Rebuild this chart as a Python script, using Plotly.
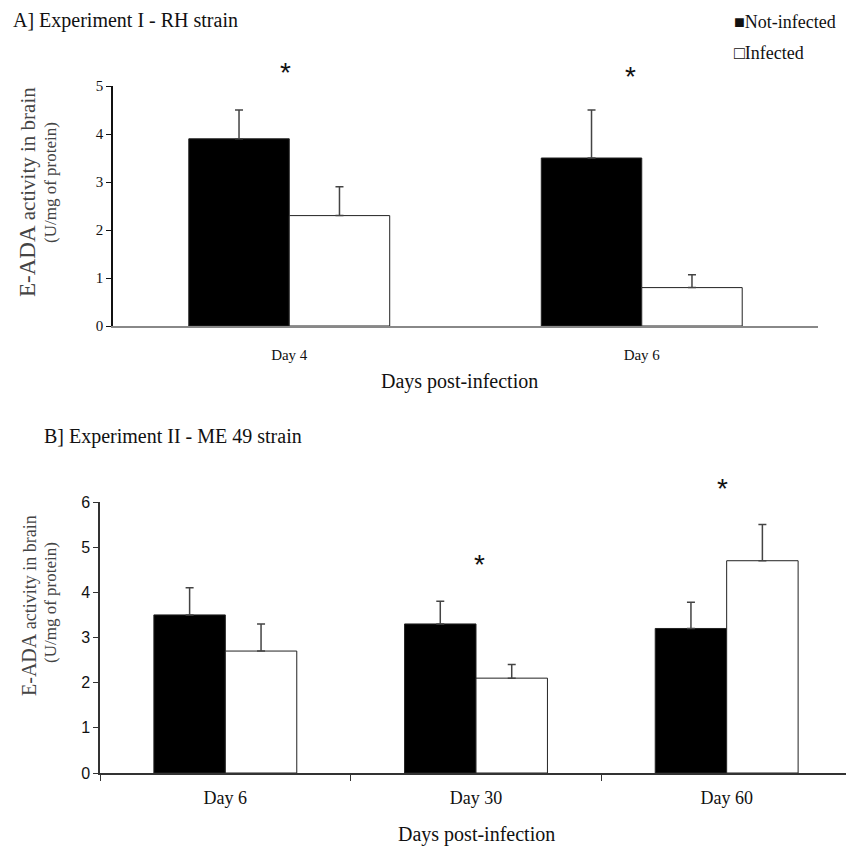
import plotly.graph_objects as go

# Panel A: Experiment I - RH strain
days_a = ["Day 4", "Day 6"]
not_inf_a = [3.9, 3.5]
not_inf_a_err = [0.6, 1.0]
inf_a = [2.3, 0.8]
inf_a_err = [0.6, 0.27]
star_a_days = ["Day 4", "Day 6"]

# Panel B: Experiment II - ME 49 strain
days_b = ["Day 6", "Day 30", "Day 60"]
not_inf_b = [3.5, 3.3, 3.2]
not_inf_b_err = [0.6, 0.5, 0.58]
inf_b = [2.7, 2.1, 4.7]
inf_b_err = [0.6, 0.3, 0.8]
star_b_days = ["Day 30", "Day 60"]

SERIF = "Liberation Serif"
SANS = "Liberation Sans"
OFF = 8            # page body margin of the browser
W, H = 846, 844    # figure size so that figure + page margin fits the window

def px_x(p):
    return (p - OFF) / W

def px_y(p):
    return 1 - (p - OFF) / H

fig = go.Figure()

err_style = dict(type="data", symmetric=False, color="#444444", thickness=1.5, width=4)
bar_line = dict(color="#222", width=1)

fig.add_trace(go.Bar(x=days_a, y=not_inf_a, name="Not-infected", marker=dict(color="black", line=bar_line),
                     error_y=dict(array=not_inf_a_err, arrayminus=[0]*len(days_a), **err_style),
                     xaxis="x", yaxis="y", offsetgroup="a1"))
fig.add_trace(go.Bar(x=days_a, y=inf_a, name="Infected", marker=dict(color="white", line=bar_line),
                     error_y=dict(array=inf_a_err, arrayminus=[0]*len(days_a), **err_style),
                     xaxis="x", yaxis="y", offsetgroup="a2"))
fig.add_trace(go.Bar(x=days_b, y=not_inf_b, name="Not-infected", marker=dict(color="black", line=bar_line),
                     error_y=dict(array=not_inf_b_err, arrayminus=[0]*len(days_b), **err_style),
                     xaxis="x2", yaxis="y2", offsetgroup="b1"))
fig.add_trace(go.Bar(x=days_b, y=inf_b, name="Infected", marker=dict(color="white", line=bar_line),
                     error_y=dict(array=inf_b_err, arrayminus=[0]*len(days_b), **err_style),
                     xaxis="x2", yaxis="y2", offsetgroup="b2"))

annotations = []
star_font = dict(family=SANS, size=28, color="#111")
# Asterisks (x in category units, y relative to each panel's plotting area)
for d, yd, xs in zip(star_a_days, [1.131, 1.111], [-4, -11]):
    annotations.append(dict(x=d, y=yd, xref="x", yref="y domain", text="*", showarrow=False,
                            xshift=xs, font=star_font))
for d, yd, xs in zip(star_b_days, [0.834, 1.115], [3, -4]):
    annotations.append(dict(x=d, y=yd, xref="x2", yref="y2 domain", text="*", showarrow=False,
                            xshift=xs, font=star_font))

def txt(text, xp, yp, size, color="#111", angle=0, anchor="center"):
    annotations.append(dict(x=px_x(xp), y=px_y(yp), xref="paper", yref="paper", xanchor=anchor, yanchor="middle",
                            text=text, textangle=angle, showarrow=False,
                            font=dict(family=SERIF, size=size, color=color)))

# Panel titles
txt("A] Experiment I - RH strain", 11, 20, 20, anchor="left")
txt("B] Experiment II - ME 49 strain", 42, 436, 20, anchor="left")
# Y titles (two lines each)
txt("<span style='font-size:23px'>E-ADA</span> activity in brain", 27, 192, 21, color="#444", angle=-90)
txt("(U/mg of protein)", 50, 183, 17, color="#444", angle=-90)
txt("<span style='font-size:20px'>E-ADA</span> activity in brain", 29, 606, 18, color="#444", angle=-90)
txt("(U/mg of protein)", 50, 603, 17, color="#444", angle=-90)
# X titles
txt("Days post-infection", 459, 381, 20)
txt("Days post-infection", 476, 834, 20)
# Legend
txt("■Not-infected", 732, 22, 18, anchor="left")
txt("□Infected", 732, 53, 18, anchor="left")

fig.update_layout(
    width=W, height=H,
    margin=dict(l=0, r=0, t=0, b=0, autoexpand=False),
    paper_bgcolor="white", plot_bgcolor="white",
    barmode="group", bargap=0.43, bargroupgap=0,
    showlegend=False,
    annotations=annotations,
    xaxis=dict(domain=[px_x(113), px_x(818)], anchor="y", showline=True, linecolor="#888", linewidth=2,
               ticks="", showgrid=False, tickfont=dict(family=SERIF, size=15, color="#111"), ticklabelstandoff=14,
               automargin=False),
    yaxis=dict(domain=[px_y(326), px_y(86)], anchor="x", range=[0, 5], dtick=1, showline=True, linecolor="#111",
               linewidth=1.5, ticks="outside", ticklen=5, tickcolor="#111", showgrid=False, zeroline=False,
               tickfont=dict(family=SERIF, size=15, color="#111"), automargin=False),
    xaxis2=dict(domain=[px_x(100), px_x(852)], anchor="y2", showline=True, linecolor="#333", linewidth=1.5,
                ticks="outside", tickson="boundaries", ticklen=6, tickcolor="#333", showgrid=False,
                tickfont=dict(family=SERIF, size=18, color="#111"), ticklabelstandoff=8, automargin=False),
    yaxis2=dict(domain=[px_y(773), px_y(502)], anchor="x2", range=[0, 6], dtick=1, showline=True, linecolor="#333",
                linewidth=1.5, ticks="outside", ticklen=5, tickcolor="#333", showgrid=False, zeroline=False,
                tickfont=dict(family=SANS, size=16, color="#111"), automargin=False),
)

fig.write_html("out.html")
